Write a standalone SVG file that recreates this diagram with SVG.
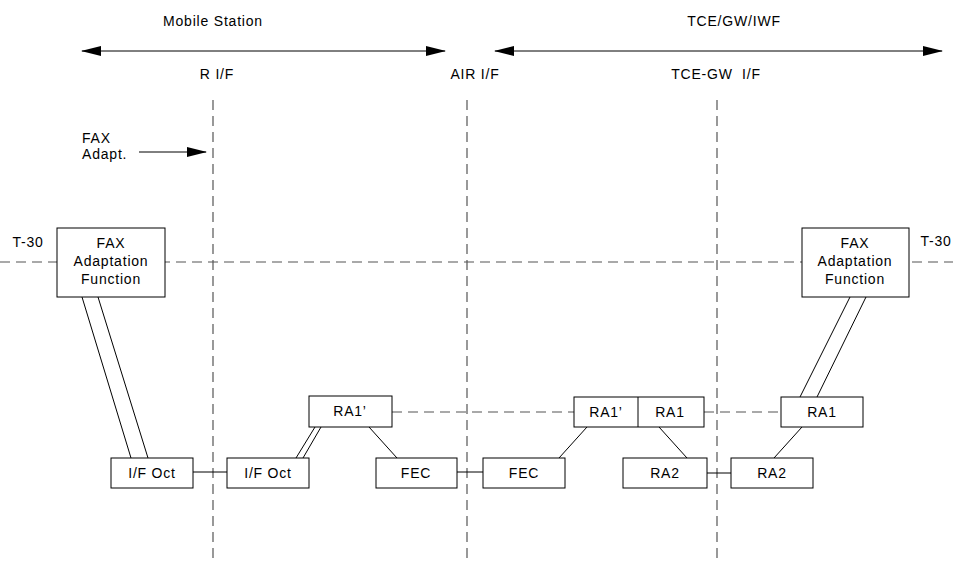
<svg xmlns="http://www.w3.org/2000/svg" width="953" height="562" viewBox="0 0 953 562">
<style>
text{font-family:"Liberation Sans",Arial,sans-serif;font-size:14px;letter-spacing:0.8px;fill:#000;text-anchor:middle}
.s{text-anchor:start}
.b{fill:#fff;stroke:#000;stroke-width:1}
.l{stroke:#000;stroke-width:1;fill:none}
.d{stroke:#555;stroke-width:1.2;stroke-dasharray:10 6;fill:none}
</style>
<defs>
<marker id="ah" markerWidth="20" markerHeight="10" refX="19" refY="5" orient="auto-start-reverse" markerUnits="userSpaceOnUse">
<path d="M0,0 L20,5 L0,10 Z" fill="#000"/>
</marker>
</defs>
<rect width="953" height="562" fill="#fff"/>
<g id="labels">
<text x="213" y="26">Mobile Station</text>
<text x="734" y="26">TCE/GW/IWF</text>
<text x="217" y="79">R I/F</text>
<text x="475" y="79">AIR I/F</text>
<text x="716" y="79" xml:space="preserve">TCE-GW  I/F</text>
<text class="s" x="82" y="143">FAX</text>
<text class="s" x="82" y="159">Adapt.</text>
<text x="28" y="247">T-30</text>
<text x="936" y="246">T-30</text>
</g>
<g id="connectors">
<line class="l" x1="82" y1="51" x2="445" y2="51" marker-start="url(#ah)" marker-end="url(#ah)"/>
<line class="l" x1="495" y1="51" x2="942" y2="51" marker-start="url(#ah)" marker-end="url(#ah)"/>
<line class="l" x1="139" y1="152" x2="206" y2="152" marker-end="url(#ah)"/>
<line class="d" x1="213" y1="100" x2="213" y2="562"/>
<line class="d" x1="467" y1="100" x2="467" y2="562"/>
<line class="d" x1="717" y1="100" x2="717" y2="562"/>
<line class="d" x1="0" y1="262" x2="953" y2="262"/>
<line class="d" x1="392" y1="412" x2="574" y2="412"/>
<line class="d" x1="704" y1="412" x2="781" y2="412"/>
<line class="l" x1="82" y1="297" x2="131" y2="458"/>
<line class="l" x1="98" y1="297" x2="148" y2="458"/>
<line class="l" x1="193" y1="472" x2="227" y2="472"/>
<line class="l" x1="296" y1="458" x2="315" y2="427"/>
<line class="l" x1="303" y1="458" x2="321" y2="427"/>
<line class="l" x1="369" y1="427" x2="397" y2="458"/>
<line class="l" x1="457" y1="472" x2="483" y2="472"/>
<line class="l" x1="587" y1="427" x2="559" y2="458"/>
<line class="l" x1="659" y1="427" x2="687" y2="458"/>
<line class="l" x1="707" y1="473" x2="731" y2="473"/>
<line class="l" x1="802" y1="427" x2="774" y2="458"/>
<line class="l" x1="850" y1="297" x2="800" y2="397"/>
<line class="l" x1="866" y1="297" x2="817" y2="397"/>
</g>
<g id="fax-left"><rect class="b" x="57" y="228" width="108" height="69"/><text x="111" y="248">FAX</text><text x="111" y="266">Adaptation</text><text x="111" y="284">Function</text></g>
<g id="fax-right"><rect class="b" x="802" y="228" width="107" height="69"/><text x="855" y="248">FAX</text><text x="855" y="266">Adaptation</text><text x="855" y="284">Function</text></g>
<g id="ifoct1"><rect class="b" x="111" y="458" width="82" height="30"/><text x="152" y="478">I/F Oct</text></g>
<g id="ifoct2"><rect class="b" x="227" y="458" width="82" height="30"/><text x="268" y="478">I/F Oct</text></g>
<g id="ra1p"><rect class="b" x="309" y="396" width="83" height="31"/><text x="350" y="416">RA1’</text></g>
<g id="fec1"><rect class="b" x="376" y="458" width="81" height="30"/><text x="416" y="478">FEC</text></g>
<g id="fec2"><rect class="b" x="483" y="458" width="82" height="30"/><text x="524" y="478">FEC</text></g>
<g id="ra1p-ra1"><rect class="b" x="574" y="397" width="130" height="30"/><line class="l" x1="638" y1="397" x2="638" y2="427"/><text x="606" y="417">RA1’</text><text x="670" y="417">RA1</text></g>
<g id="ra2a"><rect class="b" x="623" y="458" width="84" height="30"/><text x="665" y="478">RA2</text></g>
<g id="ra2b"><rect class="b" x="731" y="458" width="82" height="30"/><text x="772" y="478">RA2</text></g>
<g id="ra1"><rect class="b" x="781" y="397" width="82" height="30"/><text x="822" y="417">RA1</text></g>
</svg>
